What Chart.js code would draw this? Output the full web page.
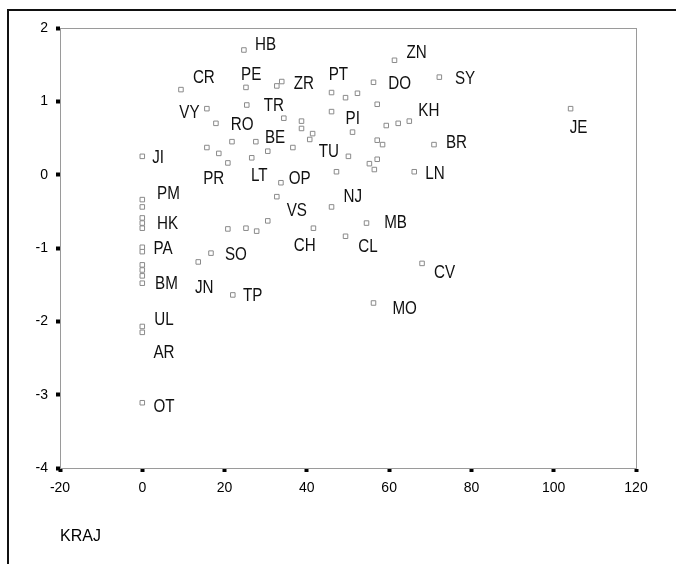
<!DOCTYPE html>
<html>
<head>
<meta charset="utf-8">
<script src="https://cdn.jsdelivr.net/npm/chart.js@4.4.0/dist/chart.umd.min.js"></script>
<style>
  html, body { margin: 0; padding: 0; background: #fff; }
  #wrap { position: relative; width: 676px; height: 564px; }
  #frame { position: absolute; left: 7px; top: 9px; right: -4px; bottom: -4px; border-left: 2px solid #111; border-top: 2px solid #111; pointer-events: none; }
</style>
</head>
<body>
<div id="wrap">
  <canvas id="myChart" width="676" height="564"></canvas>
  <div id="frame"></div>
</div>
<script>
// scatter values (KRAJ on x, score on y)
var pointX = [
  0, 0, 0, 0, 0, 0, 0, 0, 0, 0, 0, 0, 0, 0, 0,
  24.7, 9.4, 25.2, 32.7, 33.9, 15.7, 25.4, 17.9, 34.4, 38.7,
  38.7, 21.8, 27.6, 36.6, 40.7, 41.4, 15.7, 18.6, 20.8, 26.6,
  30.5, 33.7, 32.7, 30.5, 27.8, 25.2, 20.8, 41.6, 16.7, 13.6,
  22.0, 46.0, 49.4, 52.3, 56.2, 61.3, 72.2, 57.1, 46.0, 59.3,
  62.2, 64.9, 51.1, 57.1, 58.4, 70.9, 50.1, 55.2, 57.1, 56.4,
  66.1, 47.2, 46.0, 54.5, 49.4, 68.0, 56.2, 104.1
];
var pointY = [
  0.25, -0.34, -0.44, -0.59, -0.66, -0.73, -0.99, -1.05, -1.23, -1.30, -1.38, -1.48, -2.07, -2.15, -3.11,
  1.70, 1.16, 1.19, 1.21, 1.27, 0.90, 0.95, 0.70, 0.77, 0.73,
  0.63, 0.45, 0.45, 0.37, 0.48, 0.56, 0.37, 0.29, 0.16, 0.23,
  0.32, -0.11, -0.30, -0.63, -0.77, -0.73, -0.74, -0.73, -1.07, -1.19,
  -1.64, 1.12, 1.05, 1.11, 1.26, 1.56, 1.33, 0.96, 0.86, 0.67,
  0.70, 0.73, 0.58, 0.47, 0.41, 0.41, 0.25, 0.15, 0.21, 0.07,
  0.04, 0.04, -0.44, -0.66, -0.84, -1.21, -1.75, 0.90
];

// case labels and where their text sits (data units)
var labelText = ['HB','CR','PE','ZR','PT','ZN','DO','SY','VY','TR','RO','PI','KH','JE','BE','BR','TU','JI','PR','LT','OP','LN','PM','NJ','VS','HK','MB','CH','PA','CL','SO','CV','JN','BM','TP','MO','UL','AR','OT'];
var labelX = [27.4, 12.3, 24.0, 36.8, 45.3, 64.2, 59.8, 76.0, 9.0, 29.5, 21.5, 49.4, 67.1, 103.9, 29.8, 73.8, 42.9, 2.4, 14.8, 26.4, 35.6, 68.8, 3.6, 48.9, 35.1, 3.6, 58.8, 36.8, 2.7, 52.5, 20.1, 70.9, 12.8, 3.1, 24.5, 60.8, 2.9, 2.7, 2.7];
var labelY = [1.78, 1.33, 1.37, 1.26, 1.38, 1.68, 1.26, 1.32, 0.86, 0.96, 0.70, 0.78, 0.89, 0.66, 0.52, 0.45, 0.33, 0.25, -0.04, 0.0, -0.04, 0.03, -0.25, -0.29, -0.48, -0.66, -0.64, -0.96, -0.99, -0.97, -1.08, -1.33, -1.53, -1.48, -1.64, -1.81, -1.96, -2.42, -3.15];

var xTicks = [-20, 0, 20, 40, 60, 80, 100, 120];
var yTicks = [-4, -3, -2, -1, 0, 1, 2];

var pts = [];
for (var i = 0; i < pointX.length; i++) {
  pts.push({x: pointX[i], y: pointY[i]});
}

// labels are in a condensed face, squeeze a normal one horizontally
var caseLabels = {
  id: 'caseLabels',
  afterDatasetsDraw: function(chart) {
    var c = chart.ctx, xs = chart.scales.x, ys = chart.scales.y;
    c.save();
    c.font = '19px "Liberation Sans", Arial, sans-serif';
    c.fillStyle = '#111';
    c.textAlign = 'left';
    c.textBaseline = 'middle';
    for (var i = 0; i < labelText.length; i++) {
      var px = xs.getPixelForValue(labelX[i]), py = ys.getPixelForValue(labelY[i]);
      c.setTransform(0.8, 0, 0, 1, px, py);
      c.fillText(labelText[i], 0, 1);
    }
    c.restore();
  }
};

var plotFrame = {
  id: 'plotFrame',
  beforeDatasetsDraw: function(chart) {
    var a = chart.chartArea, c = chart.ctx;
    c.save();
    c.strokeStyle = '#9a9a9a';
    c.lineWidth = 1;
    c.strokeRect(a.left + 0.5, a.top + 0.5, a.right - a.left, a.bottom - a.top);
    c.restore();
  }
};

var ctx = document.getElementById('myChart').getContext('2d');
var chart = new Chart(ctx, {
  type: 'scatter',
  data: {
    datasets: [{
      data: pts,
      pointStyle: 'rect',
      pointRadius: 3.2,
      borderWidth: 1,
      borderColor: '#8a8a8a',
      backgroundColor: '#fff'
    }]
  },
  options: {
    responsive: false,
    animation: false,
    layout: { padding: { top: 28, right: 40, left: 0, bottom: 0 } },
    plugins: { legend: { display: false }, tooltip: { enabled: false } },
    scales: {
      x: {
        type: 'linear',
        min: -20, max: 120,
        afterFit: function(s) { s.height = 96; },
        afterBuildTicks: function(s) { s.ticks = xTicks.map(function(v) { return {value: v}; }); },
        grid: { drawOnChartArea: false, drawTicks: true, tickLength: 4, tickWidth: 4, tickColor: '#000' },
        border: { display: true, color: '#9a9a9a', width: 1 },
        ticks: { color: '#000', padding: 8, maxRotation: 0, font: { family: '"Liberation Sans", Arial, sans-serif', size: 14 } },
        title: { display: true, text: 'KRAJ', align: 'start', color: '#000', padding: { top: 0, bottom: 18 }, font: { family: '"Liberation Sans", Arial, sans-serif', size: 16 } }
      },
      y: {
        type: 'linear',
        min: -4, max: 2,
        afterFit: function(s) { s.width = 60; },
        afterBuildTicks: function(s) { s.ticks = yTicks.map(function(v) { return {value: v}; }); },
        grid: { drawOnChartArea: false, drawTicks: true, tickLength: 4, tickWidth: 4, tickColor: '#000' },
        border: { display: true, color: '#9a9a9a', width: 1 },
        ticks: { color: '#000', padding: 8, font: { family: '"Liberation Sans", Arial, sans-serif', size: 14 } }
      }
    }
  },
  plugins: [plotFrame, caseLabels]
});
</script>
</body>
</html>
